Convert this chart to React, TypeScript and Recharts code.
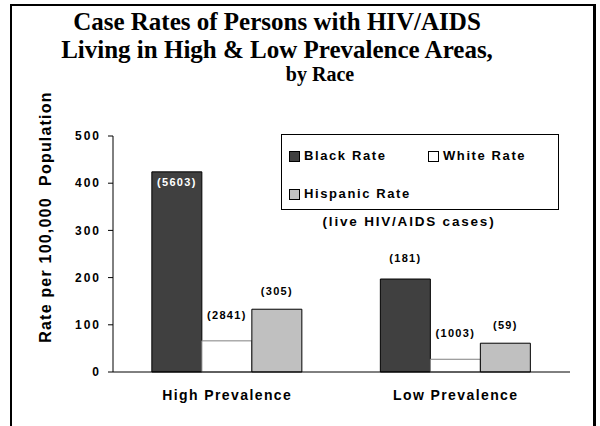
import React from "react";
import { BarChart, Bar, XAxis, YAxis, LabelList } from "recharts";

const categories = ["High Prevalence", "Low Prevalence"];
const seriesNames = ["Black Rate", "White Rate", "Hispanic Rate"];
const blackRate = [424, 197];
const whiteRate = [66, 27];
const hispanicRate = [133, 61];
const blackCases = [5603, 181];
const whiteCases = [2841, 1003];
const hispanicCases = [305, 59];
const yTicks = [0, 100, 200, 300, 400, 500];

const data = categories.map((name, i) => ({
  name,
  black: blackRate[i],
  white: whiteRate[i],
  hispanic: hispanicRate[i],
  blackCases: blackCases[i],
  whiteCases: whiteCases[i],
  hispanicCases: hispanicCases[i],
}));

const SANS = "Arial, 'Liberation Sans', sans-serif";
const SERIF = "'Times New Roman', 'Liberation Serif', serif";
const FILLS = ["#404040", "#fff", "#c0c0c0"];

function makeLabel(lift: number) {
  return (props: any) => {
    const { x, y, width, height, value } = props;
    const inside = height > 150;
    return (
      <text
        x={x + width / 2}
        y={inside ? y + 14 : y - lift}
        textAnchor="middle"
        fontFamily={SANS}
        fontWeight="bold"
        fontSize={11}
        letterSpacing={1.3}
        fill={inside ? "#fff" : "#000"}
      >
        {`(${value})`}
      </text>
    );
  };
}

function LegendBox() {
  const item = (i: number) => (
    <span style={{ display: "inline-flex", alignItems: "center" }}>
      <span
        style={{
          width: 11,
          height: 11,
          background: FILLS[i],
          border: "1px solid #000",
          marginRight: 4,
          boxSizing: "border-box",
        }}
      />
      {seriesNames[i]}
    </span>
  );
  return (
    <div
      style={{
        position: "absolute",
        left: 281,
        top: 134,
        fontFamily: SANS,
        fontWeight: "bold",
        fontSize: 13,
        letterSpacing: 1.6,
        color: "#000",
        lineHeight: "16px",
      }}
    >
      <div style={{ width: 278, height: 76, border: "1px solid #000", boxSizing: "border-box", position: "relative" }}>
        <div style={{ position: "absolute", left: 7, top: 13 }}>{item(0)}</div>
        <div style={{ position: "absolute", left: 146, top: 13 }}>{item(1)}</div>
        <div style={{ position: "absolute", left: 7, top: 51 }}>{item(2)}</div>
      </div>
      <div style={{ textAlign: "center", marginTop: 4, fontSize: 13.5, letterSpacing: 1.8, width: 256 }}>
        (live HIV/AIDS cases)
      </div>
    </div>
  );
}

export default function App() {
  return (
    <div
      style={{
        position: "absolute",
        left: 0,
        top: 0,
        width: 600,
        height: 426,
        background: "#fff",
        overflow: "hidden",
      }}
    >
      <div
        style={{
          position: "absolute",
          left: 10,
          top: 4,
          width: 581,
          height: 440,
          borderLeft: "2px solid #000",
          borderTop: "2px solid #000",
          borderRight: "3px solid #000",
        }}
      />
      <div
        style={{
          position: "absolute",
          left: 0,
          top: 8,
          width: 554,
          textAlign: "center",
          fontFamily: SERIF,
          fontWeight: "bold",
          fontSize: 25,
          lineHeight: "28px",
        }}
      >
        Case Rates of Persons with HIV/AIDS
        <br />
        Living in High &amp; Low Prevalence Areas,
      </div>
      <div
        style={{
          position: "absolute",
          left: 220,
          top: 63,
          width: 200,
          textAlign: "center",
          fontFamily: SERIF,
          fontWeight: "bold",
          fontSize: 20,
        }}
      >
        by Race
      </div>
      <div
        style={{
          position: "absolute",
          left: 46 - 150,
          top: 217 - 10,
          width: 300,
          height: 20,
          lineHeight: "20px",
          textAlign: "center",
          transform: "rotate(-90deg)",
          fontFamily: SANS,
          fontWeight: "bold",
          fontSize: 16,
          letterSpacing: 1.2,
        }}
      >
        Rate per 100,000&nbsp; Population
      </div>
      <div style={{ position: "absolute", left: 0, top: 0 }}>
        <BarChart
          width={600}
          height={426}
          data={data}
          margin={{ top: 136, right: 30, bottom: 24, left: 0 }}
          barCategoryGap="17%"
          barGap={0}
        >
          <XAxis
            dataKey="name"
            height={30}
            axisLine={{ stroke: "#000" }}
            tickLine={false}
            tickMargin={12}
            tick={{ fontFamily: SANS, fontWeight: "bold", fontSize: 14, fill: "#000", letterSpacing: 1.4 }}
          />
          <YAxis
            width={113}
            domain={[0, 500]}
            ticks={yTicks}
            axisLine={{ stroke: "#000" }}
            tickLine={{ stroke: "#000" }}
            tickSize={5}
            tickMargin={7}
            tick={{ fontFamily: SANS, fontWeight: "bold", fontSize: 12, fill: "#000", letterSpacing: 2 }}
          />
          <Bar dataKey="black" name={seriesNames[0]} fill={FILLS[0]} stroke="#000" strokeWidth={1} isAnimationActive={false}>
            <LabelList dataKey="blackCases" content={makeLabel(17)} />
          </Bar>
          <Bar dataKey="white" name={seriesNames[1]} fill={FILLS[1]} stroke="#808080" strokeWidth={1} isAnimationActive={false}>
            <LabelList dataKey="whiteCases" content={makeLabel(22)} />
          </Bar>
          <Bar dataKey="hispanic" name={seriesNames[2]} fill={FILLS[2]} stroke="#000" strokeWidth={1} isAnimationActive={false}>
            <LabelList dataKey="hispanicCases" content={makeLabel(14)} />
          </Bar>
        </BarChart>
      </div>
      <LegendBox />
    </div>
  );
}
